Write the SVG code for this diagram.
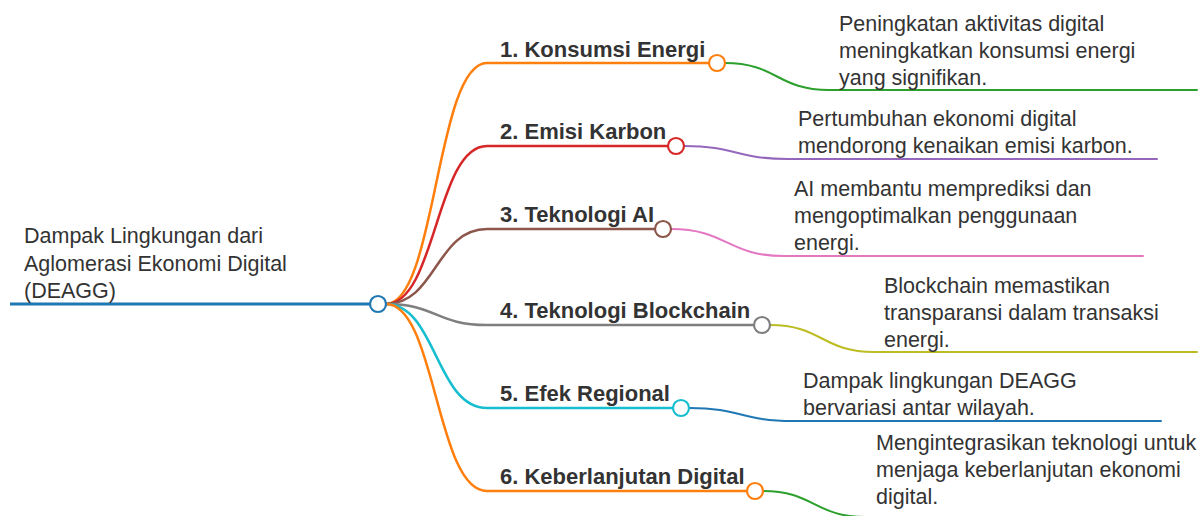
<svg xmlns="http://www.w3.org/2000/svg" width="1200" height="516" viewBox="0 0 1200 516">
  <style>
    .link { fill: none; stroke-width: 2.5; stroke-linecap: round; }
    .leaf { fill: none; stroke-width: 2; stroke-linecap: round; }
    .dot { fill: #ffffff; stroke-width: 2.2; }
    .label { font-family: "Liberation Sans", Arial, sans-serif; font-size: 22px; font-weight: bold; fill: #333333; }
    .note { font-family: "Liberation Sans", Arial, sans-serif; font-size: 21.5px; fill: #333333; }
  </style>
  <rect width="1200" height="516" fill="#ffffff"/>

  <!-- connectors -->
  <g id="connectors">
    <!-- root to topics -->
    <path class="link" stroke="#ff7f0e" d="M386,304 C436,304 436,63 487,63 L709,63"/>
    <path class="link" stroke="#d62728" d="M386,304 C436,304 436,146 487,146 L668,146"/>
    <path class="link" stroke="#8c564b" d="M386,304 C436,304 436,229 487,229 L655,229"/>
    <path class="link" stroke="#7f7f7f" d="M386,304 C436,304 436,325 487,325 L754,325"/>
    <path class="link" stroke="#17becf" d="M386,304 C436,304 436,408 487,408 L673,408"/>
    <path class="link" stroke="#ff7f0e" d="M386,304 C436,304 436,491 487,491 L746,491"/>
    <!-- topics to details -->
    <path class="leaf" stroke="#2ca02c" d="M725,63 C777,63 777,90 829,90 L1197,90"/>
    <path class="leaf" stroke="#9467bd" d="M684,146 C736,146 736,159 788,159 L1157,159"/>
    <path class="leaf" stroke="#e377c2" d="M671,229 C727,229 727,256 784,256 L1143,256"/>
    <path class="leaf" stroke="#bcbd22" d="M770,325 C822,325 822,352 874,352 L1197,352"/>
    <path class="leaf" stroke="#1f77b4" d="M689,408 C741,408 741,421 793,421 L1161,421"/>
    <path class="leaf" stroke="#2ca02c" d="M763,491 C814,491 814,517 866,517 L1197,517"/>
  </g>

  <!-- root -->
  <g id="root">
    <line x1="10" y1="304" x2="370" y2="304" stroke="#1f77b4" stroke-width="2.8"/>
    <circle class="dot" cx="378" cy="304" r="8" stroke="#1f77b4"/>
    <text class="note" x="24" y="243">Dampak Lingkungan dari</text>
    <text class="note" x="24" y="271">Aglomerasi Ekonomi Digital</text>
    <text class="note" x="24" y="298">(DEAGG)</text>
  </g>

  <!-- topic 1 -->
  <g id="topic-1">
    <text class="label" x="500" y="57">1. Konsumsi Energi</text>
    <circle class="dot" cx="717" cy="63" r="8" stroke="#ff7f0e"/>
  </g>
  <g id="detail-1">
    <text class="note" x="839" y="31">Peningkatan aktivitas digital</text>
    <text class="note" x="839" y="58">meningkatkan konsumsi energi</text>
    <text class="note" x="839" y="85">yang signifikan.</text>
  </g>

  <!-- topic 2 -->
  <g id="topic-2">
    <text class="label" x="500" y="139">2. Emisi Karbon</text>
    <circle class="dot" cx="676" cy="146" r="8" stroke="#d62728"/>
  </g>
  <g id="detail-2">
    <text class="note" x="798" y="126">Pertumbuhan ekonomi digital</text>
    <text class="note" x="798" y="153">mendorong kenaikan emisi karbon.</text>
  </g>

  <!-- topic 3 -->
  <g id="topic-3">
    <text class="label" x="500" y="222">3. Teknologi AI</text>
    <circle class="dot" cx="663" cy="229" r="8" stroke="#8c564b"/>
  </g>
  <g id="detail-3">
    <text class="note" x="794" y="196">AI membantu memprediksi dan</text>
    <text class="note" x="794" y="223">mengoptimalkan penggunaan</text>
    <text class="note" x="794" y="250">energi.</text>
  </g>

  <!-- topic 4 -->
  <g id="topic-4">
    <text class="label" x="500" y="318">4. Teknologi Blockchain</text>
    <circle class="dot" cx="762" cy="325" r="8" stroke="#7f7f7f"/>
  </g>
  <g id="detail-4">
    <text class="note" x="884" y="293">Blockchain memastikan</text>
    <text class="note" x="884" y="320">transparansi dalam transaksi</text>
    <text class="note" x="884" y="347">energi.</text>
  </g>

  <!-- topic 5 -->
  <g id="topic-5">
    <text class="label" x="500" y="401">5. Efek Regional</text>
    <circle class="dot" cx="681" cy="408" r="8" stroke="#17becf"/>
  </g>
  <g id="detail-5">
    <text class="note" x="803" y="388">Dampak lingkungan DEAGG</text>
    <text class="note" x="803" y="415">bervariasi antar wilayah.</text>
  </g>

  <!-- topic 6 -->
  <g id="topic-6">
    <text class="label" x="500" y="484">6. Keberlanjutan Digital</text>
    <circle class="dot" cx="755" cy="491" r="8" stroke="#ff7f0e"/>
  </g>
  <g id="detail-6">
    <text class="note" x="876" y="450">Mengintegrasikan teknologi untuk</text>
    <text class="note" x="876" y="477">menjaga keberlanjutan ekonomi</text>
    <text class="note" x="876" y="504">digital.</text>
  </g>
</svg>
